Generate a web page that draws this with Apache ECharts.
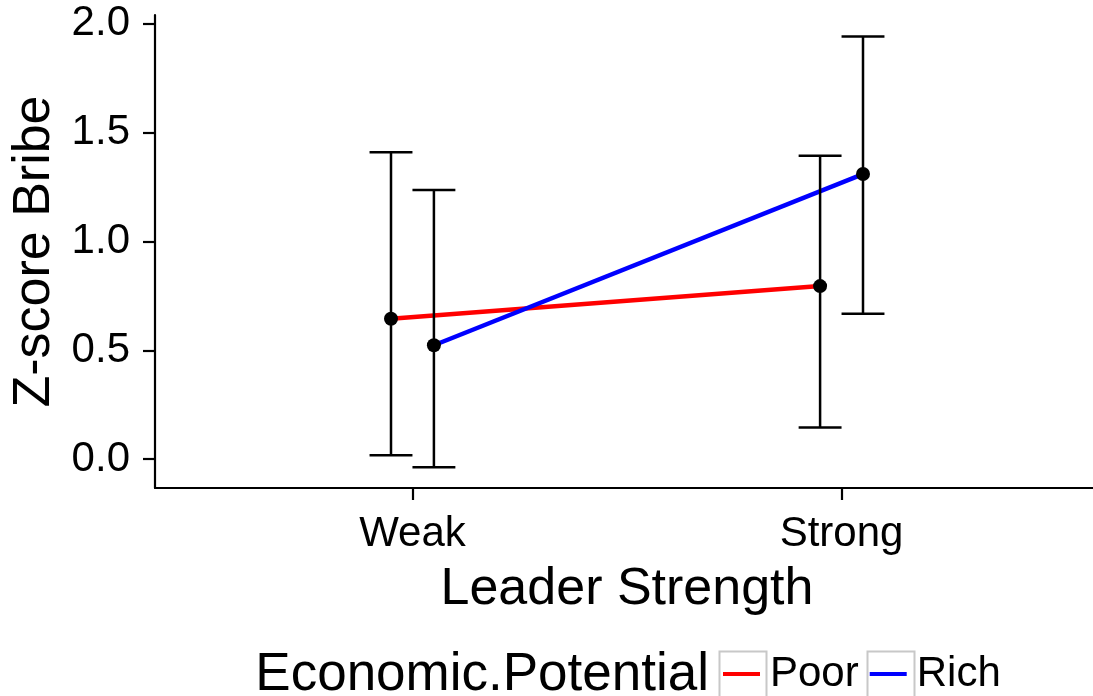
<!DOCTYPE html>
<html>
<head>
<meta charset="utf-8">
<script src="https://cdn.jsdelivr.net/npm/echarts@6/dist/echarts.min.js"></script>
<style>
  html, body { margin: 0; padding: 0; background: #fff; }
  #chart { width: 1093px; height: 696px; }
</style>
</head>
<body>
<div id="chart"></div>
<script>
// data
var categories = ['Weak', 'Strong'];
var groups = ['Poor', 'Rich'];
var poorMean = [0.645, 0.795];
var poorLow = [0.018, 0.145];
var poorHigh = [1.41, 1.394];
var richMean = [0.523, 1.31];
var richLow = [-0.038, 0.668];
var richHigh = [1.237, 1.942];
var yTicks = [0, 0.5, 1, 1.5, 2];

var dodge = 0.05;   // position_dodge offset
var capWidth = 0.1;
var FONT = 'Liberation Sans, Arial, sans-serif';

function pts(mean, off) {
  return mean.map(function (v, i) { return [i + 1 + off, v]; });
}
function bars(low, high, off) {
  return low.map(function (v, i) { return [i + 1 + off, v, high[i]]; });
}

var errData = bars(poorLow, poorHigh, -dodge).concat(bars(richLow, richHigh, dodge));

function renderErr(params, api) {
  var x = api.value(0);
  var lo = api.coord([x, api.value(1)]);
  var hi = api.coord([x, api.value(2)]);
  var l = api.coord([x - capWidth / 2, api.value(1)])[0];
  var r = api.coord([x + capWidth / 2, api.value(1)])[0];
  var st = { stroke: '#000', lineWidth: 2.5 };
  return {
    type: 'group',
    children: [
      { type: 'line', shape: { x1: lo[0], y1: lo[1], x2: hi[0], y2: hi[1] }, style: st },
      { type: 'line', shape: { x1: l, y1: hi[1], x2: r, y2: hi[1] }, style: st },
      { type: 'line', shape: { x1: l, y1: lo[1], x2: r, y2: lo[1] }, style: st }
    ]
  };
}

var chart = echarts.init(document.getElementById('chart'));
var option = {
  animation: false,
  backgroundColor: '#fff',
  grid: { left: 155, top: 15, width: 944, height: 473, containLabel: false, outerBoundsMode: 'none' },
  xAxis: {
    type: 'value',
    min: 0.4,
    max: 2.6,
    name: 'Leader Strength',
    nameLocation: 'middle',
    nameGap: 76,
    nameTextStyle: { fontSize: 52, color: '#000', fontFamily: FONT },
    splitLine: { show: false },
    axisLine: { onZero: false, lineStyle: { color: '#000', width: 2.2 } },
    axisTick: { customValues: [1, 2], length: 12, lineStyle: { color: '#000', width: 2.2 } },
    axisLabel: {
      customValues: [1, 2],
      margin: 25,
      fontSize: 42,
      color: '#000',
      fontFamily: FONT,
      formatter: function (v) { return categories[Math.round(v) - 1]; }
    }
  },
  yAxis: {
    type: 'value',
    min: -0.133,
    max: 2.041,
    name: 'Z-score Bribe',
    nameLocation: 'middle',
    nameGap: 93,
    nameTextStyle: { fontSize: 52, color: '#000', fontFamily: FONT },
    splitLine: { show: false },
    axisLine: { onZero: false, lineStyle: { color: '#000', width: 2.2 } },
    axisTick: { customValues: yTicks, length: 12, lineStyle: { color: '#000', width: 2.2 } },
    axisLabel: {
      customValues: yTicks,
      margin: 25,
      fontSize: 42,
      color: '#000',
      fontFamily: FONT,
      formatter: function (v) { return v.toFixed(1); }
    }
  },
  legend: {
    data: groups,
    icon: 'rect',
    left: 723,
    top: 651,
    padding: 0,
    itemWidth: 37,
    itemHeight: 4,
    itemGap: 11,
    itemStyle: { borderWidth: 0 },
    textStyle: { fontSize: 42, lineHeight: 46, color: '#000', fontFamily: FONT, padding: [0, 0, 0, 5] }
  },
  graphic: [
    {
      type: 'text',
      right: 1093 - 709,
      top: 649,
      style: { text: 'Economic.Potential', fontSize: 53, fill: '#000', fontFamily: FONT }
    },
    { type: 'rect', left: 717, top: 649, shape: { width: 47, height: 46 }, style: { fill: 'none', stroke: '#c8c8c8', lineWidth: 2 }, z: -1 },
    { type: 'rect', left: 865, top: 649, shape: { width: 47, height: 46 }, style: { fill: 'none', stroke: '#c8c8c8', lineWidth: 2 }, z: -1 }
  ],
  series: [
    {
      name: 'Poor',
      type: 'line',
      data: pts(poorMean, -dodge),
      symbol: 'none',
      lineStyle: { color: '#ff0000', width: 4.5 },
      itemStyle: { color: '#ff0000' },
      z: 2
    },
    {
      name: 'Rich',
      type: 'line',
      data: pts(richMean, dodge),
      symbol: 'none',
      lineStyle: { color: '#0000ff', width: 4.5 },
      itemStyle: { color: '#0000ff' },
      z: 2
    },
    {
      type: 'custom',
      renderItem: renderErr,
      data: errData,
      encode: { x: 0, y: [1, 2] },
      z: 3
    },
    {
      type: 'scatter',
      data: pts(poorMean, -dodge).concat(pts(richMean, dodge)),
      symbolSize: 14,
      itemStyle: { color: '#000', opacity: 1 },
      z: 4
    }
  ]
};
chart.setOption(option);
</script>
</body>
</html>
